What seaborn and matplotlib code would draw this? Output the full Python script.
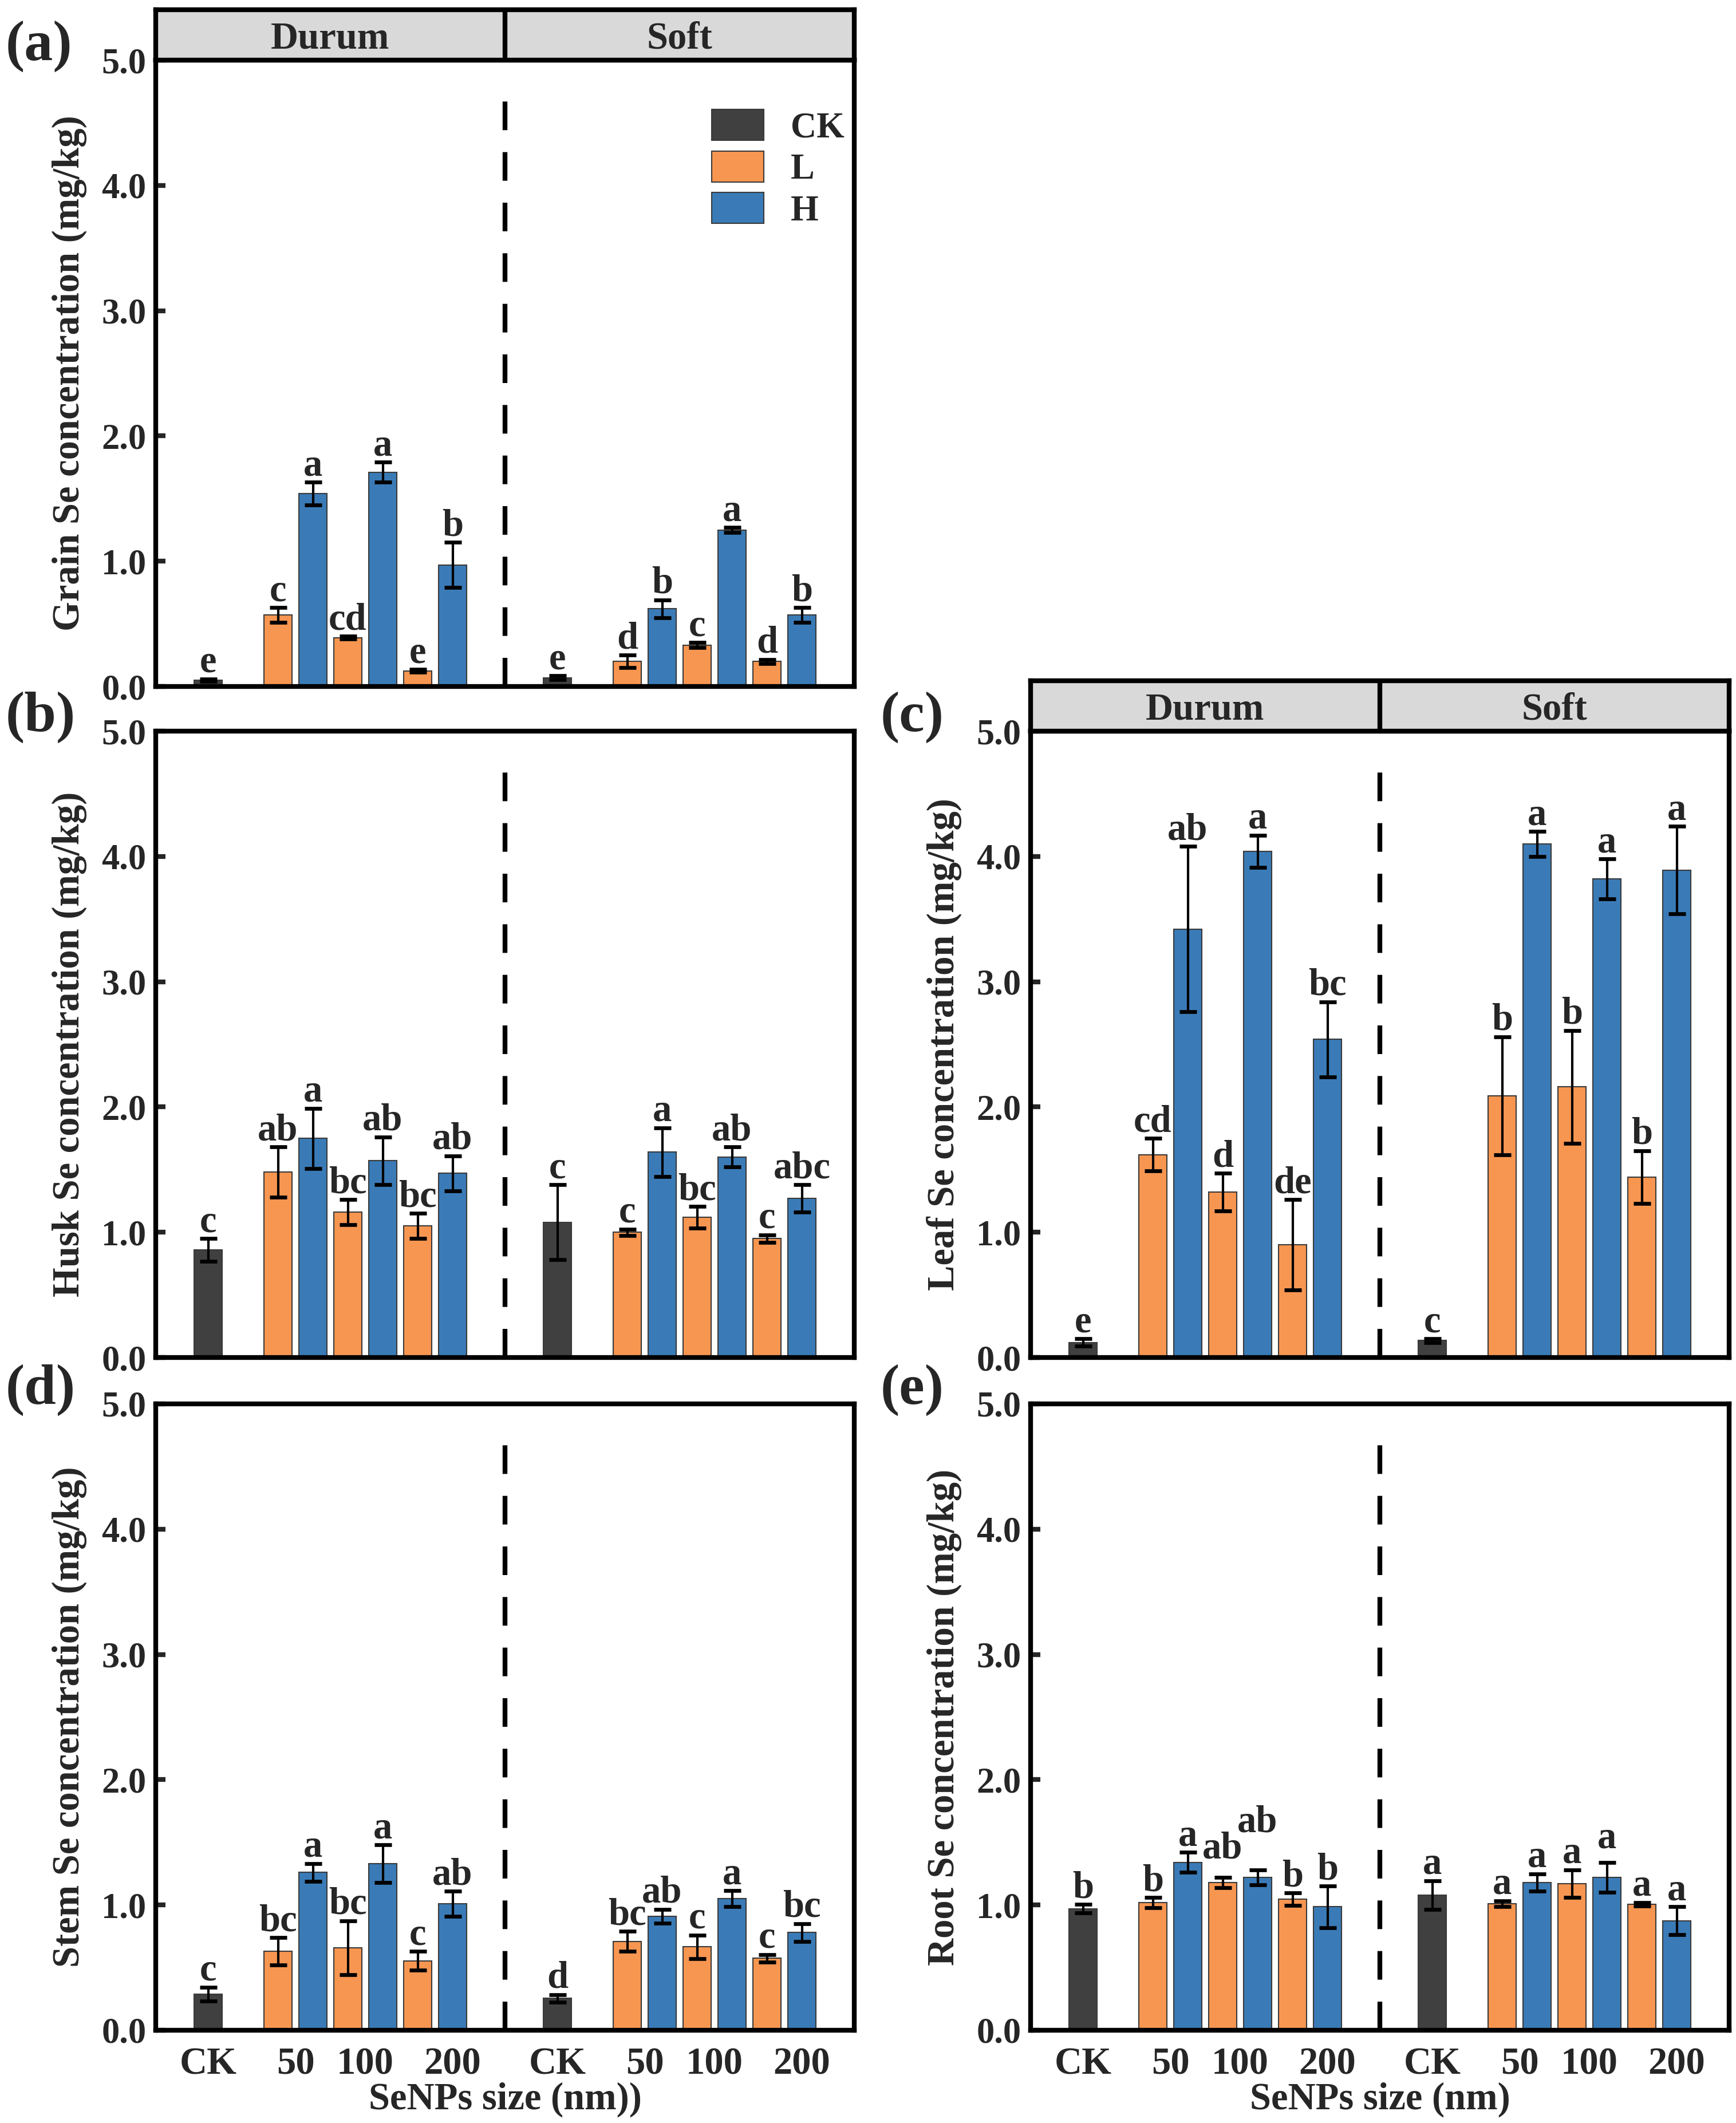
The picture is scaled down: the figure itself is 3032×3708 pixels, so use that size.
import numpy as np
import pandas as pd
import matplotlib
matplotlib.use("Agg")
import matplotlib.pyplot as plt
import seaborn as sns

# ---- data ----
species = ["Durum", "Soft"]
doses = ["CK", "L", "H", "L", "H", "L", "H"]
size_ticks = ["CK", "50", "100", "200"]
dose_colors = {"CK": "#404040", "L": "#F79651", "H": "#3A7BB7"}

grain_mean = [0.05, 0.57, 1.54, 0.39, 1.71, 0.125, 0.97,
              0.07, 0.20, 0.62, 0.33, 1.25, 0.20, 0.57]
grain_err = [0.01, 0.06, 0.09, 0.01, 0.08, 0.01, 0.18,
             0.015, 0.05, 0.07, 0.02, 0.02, 0.015, 0.06]
grain_letters = ["e", "c", "a", "cd", "a", "e", "b",
                 "e", "d", "b", "c", "a", "d", "b"]

husk_mean = [0.86, 1.48, 1.75, 1.16, 1.57, 1.05, 1.47,
             1.08, 1.00, 1.64, 1.12, 1.60, 0.95, 1.27]
husk_err = [0.09, 0.20, 0.24, 0.10, 0.19, 0.10, 0.14,
            0.30, 0.025, 0.195, 0.085, 0.08, 0.03, 0.11]
husk_letters = ["c", "ab", "a", "bc", "ab", "bc", "ab",
                "c", "c", "a", "bc", "ab", "c", "abc"]

leaf_mean = [0.12, 1.62, 3.42, 1.32, 4.04, 0.90, 2.54,
             0.135, 2.09, 4.10, 2.16, 3.82, 1.44, 3.89]
leaf_err = [0.03, 0.13, 0.66, 0.15, 0.13, 0.36, 0.30,
            0.015, 0.47, 0.10, 0.45, 0.16, 0.21, 0.35]
leaf_letters = ["e", "cd", "ab", "d", "a", "de", "bc",
                "c", "b", "a", "b", "a", "b", "a"]

stem_mean = [0.29, 0.63, 1.26, 0.66, 1.33, 0.555, 1.01,
             0.255, 0.71, 0.91, 0.665, 1.05, 0.575, 0.78]
stem_err = [0.055, 0.11, 0.07, 0.215, 0.15, 0.075, 0.10,
            0.03, 0.08, 0.055, 0.095, 0.065, 0.03, 0.07]
stem_letters = ["c", "bc", "a", "bc", "a", "c", "ab",
                "d", "bc", "ab", "c", "a", "c", "bc"]

root_mean = [0.97, 1.02, 1.34, 1.18, 1.22, 1.045, 0.985,
             1.08, 1.01, 1.18, 1.17, 1.22, 1.005, 0.875]
root_err = [0.035, 0.04, 0.08, 0.04, 0.06, 0.05, 0.165,
            0.115, 0.025, 0.07, 0.11, 0.12, 0.015, 0.11]
root_letters = ["b", "b", "a", "ab", "ab", "b", "b",
                "a", "a", "a", "a", "a", "a", "a"]

# ---- layout ----
slots = [0, 2, 3, 4, 5, 6, 7]          # bar slots inside one species group
tick_slots = [0, 2.5, 4.5, 7]
group_gap = 10

W, H = 3032, 3708
col_left = [272 / W, 1800 / W]
row_bottom = [(H - 1199) / H, (H - 2371) / H, (H - 3546) / H]
ax_w = 1220 / W
ax_h = 1094 / H
strip_h = 88 / H

sns.set_style("white")
plt.rcParams["font.family"] = ["Liberation Serif", "DejaVu Serif"]
plt.rcParams["font.weight"] = "bold"
plt.rcParams["axes.labelweight"] = "bold"

panels = [
    ("(a)", 0, 0, "Grain", grain_mean, grain_err, grain_letters, True, True, None),
    ("(b)", 1, 0, "Husk", husk_mean, husk_err, husk_letters, False, False, None),
    ("(c)", 1, 1, "Leaf", leaf_mean, leaf_err, leaf_letters, True, False, None),
    ("(d)", 2, 0, "Stem", stem_mean, stem_err, stem_letters, False, False, "SeNPs size (nm))"),
    ("(e)", 2, 1, "Root", root_mean, root_err, root_letters, False, False, "SeNPs size (nm)"),
]

# manual lifts for letters that were staggered in the original
letter_lift = {("Root", 3): 0.10, ("Root", 4): 0.25, ("Root", 11): 0.06}


def make_frame(mean, err, letters):
    rows = []
    for g, sp in enumerate(species):
        for k in range(len(slots)):
            i = g * len(slots) + k
            rows.append({"species": sp, "pos": slots[k] + g * group_gap,
                         "dose": doses[k], "mean": mean[i], "err": err[i],
                         "letter": letters[i]})
    return pd.DataFrame(rows)


fig = plt.figure(figsize=(W / 300, H / 300), dpi=300)

for tag, row, col, tissue, mean, err, letters, strip, legend, xlabel in panels:
    df = make_frame(mean, err, letters)
    left, bottom = col_left[col], row_bottom[row]
    ax = fig.add_axes([left, bottom, ax_w, ax_h])

    sns.barplot(data=df, x="pos", y="mean", hue="dose", hue_order=["CK", "L", "H"],
                palette=dose_colors, saturation=1, native_scale=True, dodge=False,
                width=0.8, errorbar=None, edgecolor="#3a3a3a", linewidth=0.5,
                legend=legend, ax=ax)
    ax.errorbar(df["pos"], df["mean"], yerr=df["err"], fmt="none", ecolor="black",
                elinewidth=1.0, capsize=3.6, capthick=1.6, zorder=4)

    for i, r in df.iterrows():
        y = r["mean"] + r["err"] + 0.055 + letter_lift.get((tissue, i), 0)
        ax.text(r["pos"], y, r["letter"], ha="center", va="baseline",
                fontsize=16, fontweight="bold")

    ax.axvline(8.5, ymin=0, ymax=0.96, color="black", lw=2, dashes=(6, 4.6))

    ax.set_xlim(-1.5, 18.5)
    ax.set_ylim(0, 5)
    ax.set_yticks(np.arange(0, 5.01, 1))
    ax.set_yticklabels([f"{v:.1f}" for v in np.arange(0, 5.01, 1)], fontsize=15)
    ax.tick_params(axis="y", direction="in", length=4, width=2, pad=4, left=True)
    ax.tick_params(axis="x", length=0, pad=7)
    ticks = [t + g * group_gap for g in range(len(species)) for t in tick_slots]
    ax.set_xticks(ticks)
    if xlabel:
        ax.set_xticklabels(size_ticks * len(species), fontsize=16)
        ax.set_xlabel(xlabel, fontsize=16, labelpad=0)
    else:
        ax.set_xticklabels([])
        ax.set_xlabel("")
    ax.set_ylabel(f"{tissue} Se concentration (mg/kg)", fontsize=16, labelpad=6)
    for s in ax.spines.values():
        s.set_linewidth(2)
        s.set_color("black")

    if legend:
        h, l = ax.get_legend_handles_labels()
        ax.legend(h, l, loc="upper left", bbox_to_anchor=(0.796, 0.921),
                  frameon=False, fontsize=15, handlelength=1.45, handleheight=0.95,
                  labelspacing=0.16, handletextpad=0.75, borderpad=0,
                  borderaxespad=0)

    if strip:
        sx = fig.add_axes([left, bottom + ax_h, ax_w, strip_h])
        sx.set_facecolor("#d9d9d9")
        sx.set_xlim(-1.5, 18.5)
        sx.set_ylim(0, 1)
        sx.axvline(8.5, color="black", lw=2)
        for g, sp in enumerate(species):
            sx.text(3.5 + g * group_gap, 0.42, sp, ha="center", va="center",
                    fontsize=16, fontweight="bold")
        sx.set_xticks([])
        sx.set_yticks([])
        for s in sx.spines.values():
            s.set_linewidth(2)
            s.set_color("black")

    fig.text(left - 262 / W, bottom + ax_h + 24 / H, tag, fontsize=24,
             fontweight="bold", ha="left", va="center")

fig.savefig("out.png", dpi=300)
